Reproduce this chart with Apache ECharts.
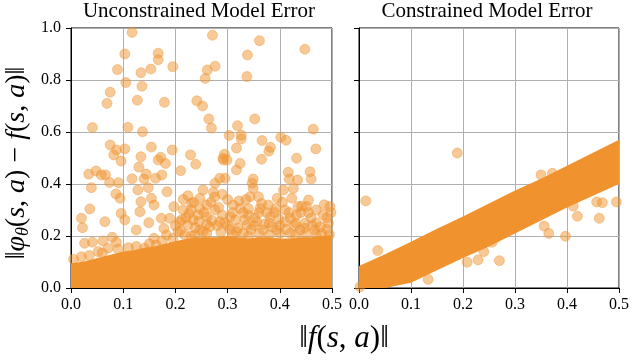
<!DOCTYPE html>
<html>
<head>
<meta charset="utf-8">
<script src="https://cdn.jsdelivr.net/npm/echarts@6/dist/echarts.min.js"></script>
<style>
  html, body { margin: 0; padding: 0; background: #fff; }
  #chart { width: 632px; height: 360px; }
</style>
</head>
<body>
<div id="chart"></div>
<script>
'use strict';

// panel titles + axis ticks
var titles = ['Unconstrained Model Error', 'Constrained Model Error'];
var xTicks = [0.0, 0.1, 0.2, 0.3, 0.4, 0.5];
var yTicks = [0.0, 0.2, 0.4, 0.6, 0.8, 1.0];

// unconstrained: solid core of overlapping points (top edge)
var coreX   = [0.00, 0.02, 0.04, 0.06, 0.08, 0.10, 0.12, 0.14, 0.16, 0.18, 0.20, 0.22, 0.24, 0.26,
               0.28, 0.30, 0.32, 0.34, 0.36, 0.38, 0.40, 0.42, 0.44, 0.46, 0.48, 0.50];
var coreTop = [0.095, 0.100, 0.110, 0.120, 0.130, 0.140, 0.145, 0.155, 0.160, 0.170, 0.180, 0.188, 0.195, 0.195,
               0.195, 0.200, 0.195, 0.190, 0.195, 0.195, 0.190, 0.190, 0.195, 0.195, 0.200, 0.205];
var coreLow = [0, 0, 0, 0, 0, 0, 0, 0, 0, 0, 0, 0, 0, 0,
               0, 0, 0, 0, 0, 0, 0, 0, 0, 0, 0, 0];

// unconstrained: individual points above the core
var leftPts = [
  [0.117, 0.983], [0.103, 0.900], [0.167, 0.903], [0.167, 0.878], [0.089, 0.840], [0.134, 0.828],
  [0.153, 0.842], [0.195, 0.851], [0.105, 0.790], [0.136, 0.776], [0.075, 0.753], [0.069, 0.710],
  [0.127, 0.722], [0.179, 0.714], [0.241, 0.720], [0.252, 0.700], [0.041, 0.617], [0.109, 0.618],
  [0.137, 0.601], [0.271, 0.972], [0.361, 0.951], [0.448, 0.918], [0.338, 0.896], [0.276, 0.853],
  [0.261, 0.838], [0.257, 0.806], [0.337, 0.813], [0.264, 0.650], [0.269, 0.615], [0.352, 0.650],
  [0.319, 0.624], [0.464, 0.611], [0.303, 0.587], [0.326, 0.588], [0.326, 0.573], [0.366, 0.567],
  [0.402, 0.580], [0.412, 0.568], [0.382, 0.541], [0.379, 0.526], [0.317, 0.538], [0.469, 0.535],
  [0.294, 0.514], [0.291, 0.499], [0.365, 0.495], [0.432, 0.499], [0.075, 0.550], [0.087, 0.531],
  [0.082, 0.512], [0.103, 0.535], [0.154, 0.542], [0.194, 0.531], [0.134, 0.505], [0.172, 0.503],
  [0.229, 0.512], [0.096, 0.488], [0.130, 0.465], [0.167, 0.492], [0.181, 0.479], [0.239, 0.476],
  [0.210, 0.451], [0.144, 0.438], [0.174, 0.435], [0.162, 0.422], [0.034, 0.438], [0.048, 0.450],
  [0.058, 0.435], [0.066, 0.435], [0.074, 0.406], [0.091, 0.405], [0.117, 0.420], [0.140, 0.419],
  [0.039, 0.386], [0.086, 0.362], [0.094, 0.345], [0.128, 0.377], [0.148, 0.386], [0.154, 0.345],
  [0.159, 0.319], [0.184, 0.370], [0.215, 0.341], [0.224, 0.355], [0.231, 0.326], [0.134, 0.332],
  [0.132, 0.293], [0.036, 0.304], [0.020, 0.268], [0.022, 0.232], [0.065, 0.255], [0.096, 0.287],
  [0.103, 0.262], [0.149, 0.251], [0.173, 0.268], [0.125, 0.223], [0.178, 0.229], [0.197, 0.313],
  [0.189, 0.268], [0.026, 0.172], [0.041, 0.176], [0.061, 0.181], [0.079, 0.195], [0.087, 0.176],
  [0.159, 0.191], [0.183, 0.204], [0.208, 0.255], [0.224, 0.242], [0.243, 0.281],
  [0.292, 0.492], [0.299, 0.492], [0.324, 0.479], [0.317, 0.454], [0.416, 0.445], [0.458, 0.447],
  [0.460, 0.419], [0.434, 0.415], [0.418, 0.419], [0.349, 0.419], [0.347, 0.403], [0.276, 0.403],
  [0.285, 0.422], [0.295, 0.422], [0.253, 0.377], [0.273, 0.368], [0.349, 0.383], [0.343, 0.351],
  [0.359, 0.351], [0.407, 0.377], [0.426, 0.383], [0.423, 0.345], [0.455, 0.338], [0.435, 0.313],
  [0.451, 0.313], [0.496, 0.313], [0.247, 0.345], [0.260, 0.319], [0.276, 0.300], [0.311, 0.319],
  [0.324, 0.306], [0.362, 0.306], [0.378, 0.319], [0.381, 0.274], [0.356, 0.255], [0.333, 0.262],
  [0.337, 0.242], [0.305, 0.274], [0.285, 0.255], [0.260, 0.274], [0.266, 0.236], [0.420, 0.268],
  [0.410, 0.255], [0.448, 0.249], [0.467, 0.223], [0.483, 0.281], [0.493, 0.249], [0.439, 0.223],
  [0.394, 0.223], [0.368, 0.223], [0.317, 0.217], [0.287, 0.215], [0.253, 0.217],
  [0.205, 0.217], [0.218, 0.204], [0.237, 0.204], [0.247, 0.223], [0.247, 0.306], [0.234, 0.262],
  [0.052, 0.140], [0.071, 0.153], [0.141, 0.153], [0.163, 0.165],
  [0.300, 0.240], [0.320, 0.230], [0.350, 0.240], [0.380, 0.250], [0.400, 0.240], [0.430, 0.250],
  [0.460, 0.270], [0.470, 0.250], [0.490, 0.270], [0.270, 0.260], [0.290, 0.280], [0.310, 0.290],
  [0.340, 0.280], [0.360, 0.290], [0.390, 0.290], [0.410, 0.300], [0.440, 0.290], [0.220, 0.270],
  [0.230, 0.300], [0.210, 0.220], [0.260, 0.210], [0.330, 0.210], [0.360, 0.210], [0.420, 0.210],
  [0.450, 0.210], [0.480, 0.210],
  [0.005, 0.110], [0.020, 0.120], [0.035, 0.125], [0.060, 0.135], [0.090, 0.150], [0.110, 0.155],
  [0.125, 0.160], [0.150, 0.170], [0.175, 0.180], [0.195, 0.190], [0.230, 0.200],
  [0.200, 0.240], [0.212, 0.262], [0.226, 0.286], [0.238, 0.232], [0.245, 0.255], [0.255, 0.290],
  [0.268, 0.330], [0.280, 0.240], [0.283, 0.310], [0.295, 0.250], [0.300, 0.340], [0.305, 0.225],
  [0.315, 0.262], [0.322, 0.335], [0.330, 0.290], [0.340, 0.305], [0.345, 0.225], [0.352, 0.270],
  [0.365, 0.325], [0.370, 0.245], [0.375, 0.290], [0.385, 0.235], [0.392, 0.305], [0.398, 0.265],
  [0.405, 0.330], [0.412, 0.225], [0.418, 0.290], [0.428, 0.240], [0.432, 0.280], [0.442, 0.315],
  [0.447, 0.230], [0.455, 0.290], [0.462, 0.240], [0.470, 0.300], [0.478, 0.235], [0.485, 0.320],
  [0.490, 0.225], [0.498, 0.290], [0.275, 0.350], [0.290, 0.360], [0.335, 0.340], [0.395, 0.345],
  [0.215, 0.300], [0.235, 0.330], [0.260, 0.245], [0.310, 0.205], [0.340, 0.200], [0.380, 0.205],
  [0.400, 0.210], [0.430, 0.205], [0.470, 0.205], [0.495, 0.205]
];

// constrained: dense diagonal band (edges)
var bandX    = [0.00, 0.05, 0.10, 0.15, 0.20, 0.25, 0.30, 0.35, 0.40, 0.45, 0.50];
var bandHigh = [0.085, 0.130, 0.178, 0.228, 0.275, 0.325, 0.375, 0.420, 0.470, 0.520, 0.570];
var bandLow  = [0.000, 0.000, 0.020, 0.068, 0.115, 0.160, 0.210, 0.260, 0.310, 0.355, 0.400];

// constrained: outliers off the band
var rightPts = [
  [0.189, 0.519], [0.013, 0.335], [0.036, 0.144], [0.133, 0.033], [0.208, 0.099], [0.229, 0.108],
  [0.240, 0.140], [0.002, 0.005], [0.270, 0.105], [0.256, 0.176], [0.356, 0.238], [0.365, 0.210],
  [0.397, 0.199], [0.420, 0.276], [0.412, 0.315], [0.457, 0.331], [0.468, 0.328], [0.462, 0.268],
  [0.495, 0.331], [0.350, 0.435], [0.372, 0.441]
];

var ORANGE = '#F0932F';
var SERIF = '"Liberation Serif", "DejaVu Serif", serif';

var chart = echarts.init(document.getElementById('chart'), null, { renderer: 'canvas' });

function fmt(v) {
  return v.toFixed(1);
}

function makeX(idx) {
  return {
    gridIndex: idx, type: 'value', min: xTicks[0], max: xTicks[xTicks.length - 1], interval: 0.1,
    axisLine: { show: true, onZero: false, lineStyle: { color: '#000', width: 1 } },
    axisTick: { show: true, length: 5, lineStyle: { color: '#000' } },
    axisLabel: { show: true, margin: 9, fontFamily: SERIF, fontSize: 16, color: '#000', formatter: fmt },
    splitLine: { show: true, lineStyle: { color: '#b0b0b0', width: 1 } }
  };
}

function makeY(idx, labels) {
  return {
    gridIndex: idx, type: 'value', min: yTicks[0], max: yTicks[yTicks.length - 1], interval: 0.2,
    axisLine: { show: true, onZero: false, lineStyle: { color: '#000', width: 1 } },
    axisTick: { show: true, length: 5, lineStyle: { color: '#000' } },
    axisLabel: { show: labels, margin: 10, fontFamily: SERIF, fontSize: 16, color: '#000', formatter: fmt },
    splitLine: { show: true, lineStyle: { color: '#b0b0b0', width: 1 } }
  };
}

// filled polygon between two edges, positioned by the axes
function bandRenderer(xs, lows, highs) {
  return function (params, api) {
    var pts = [];
    for (var i = 0; i < xs.length; i++) {
      pts.push(api.coord([xs[i], highs[i]]));
    }
    for (var j = xs.length - 1; j >= 0; j--) {
      pts.push(api.coord([xs[j], lows[j]]));
    }
    return { type: 'polygon', shape: { points: pts }, style: { fill: ORANGE } };
  };
}

function scatter(idx, pts) {
  return {
    type: 'scatter', xAxisIndex: idx, yAxisIndex: idx, data: pts, symbolSize: 10, clip: true,
    itemStyle: { color: ORANGE, opacity: 0.5, borderColor: ORANGE, borderWidth: 0.8 },
    silent: true, z: 3
  };
}

var mathRich = {
  n: { fontFamily: SERIF, fontSize: 28, color: '#000' },
  i: { fontFamily: SERIF, fontSize: 28, fontStyle: 'italic', color: '#000' },
  sub: { fontFamily: SERIF, fontSize: 18, fontStyle: 'italic', color: '#000', padding: [13, 0, 0, 0] }
};

var xRich = {
  n: { fontFamily: SERIF, fontSize: 31, color: '#000' },
  i: { fontFamily: SERIF, fontSize: 31, fontStyle: 'italic', color: '#000' }
};

var option = {
  animation: false,
  backgroundColor: '#fff',
  grid: [
    { left: 71, top: 28, width: 261, height: 260, show: true, borderColor: '#000', borderWidth: 1 },
    { left: 359, top: 28, width: 261, height: 260, show: true, borderColor: '#000', borderWidth: 1 }
  ],
  xAxis: [makeX(0), makeX(1)],
  yAxis: [makeY(0, true), makeY(1, false)],
  series: [
    {
      type: 'custom', xAxisIndex: 0, yAxisIndex: 0, data: [[0, 0]], clip: true, silent: true, z: 2,
      renderItem: bandRenderer(coreX, coreLow, coreTop)
    },
    scatter(0, leftPts),
    {
      type: 'custom', xAxisIndex: 1, yAxisIndex: 1, data: [[0, 0]], clip: true, silent: true, z: 2,
      renderItem: bandRenderer(bandX, bandLow, bandHigh)
    },
    scatter(1, rightPts)
  ],
  graphic: [
    {
      type: 'text', x: 199, y: 11,
      style: { text: titles[0], font: '21px ' + SERIF, fill: '#000', align: 'center', verticalAlign: 'middle' }
    },
    {
      type: 'text', x: 487, y: 11,
      style: { text: titles[1], font: '21px ' + SERIF, fill: '#000', align: 'center', verticalAlign: 'middle' }
    },
    {
      type: 'text', x: 344, y: 339,
      style: {
        text: '{n|‖}{i|f}{n|(}{i|s}{n|, }{i|a}{n|)‖}',
        rich: xRich, align: 'center', verticalAlign: 'middle'
      }
    },
    {
      type: 'text', x: 17, y: 163, rotation: Math.PI / 2,
      style: {
        text: '{n|‖}{i|φ}{sub|θ}{n|(}{i|s}{n|, }{i|a}{n|) − }{i|f}{n|(}{i|s}{n|, }{i|a}{n|)‖}',
        rich: mathRich, align: 'center', verticalAlign: 'middle'
      }
    }
  ]
};

chart.setOption(option);
</script>
</body>
</html>
